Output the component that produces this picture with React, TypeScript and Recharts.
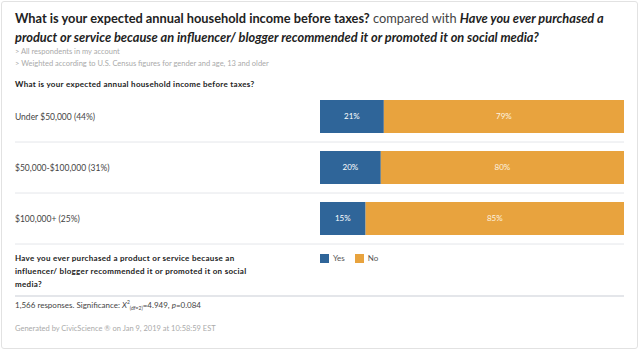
import React from 'react';
import { BarChart, Bar, XAxis, YAxis, Legend, LabelList } from 'recharts';

const categories = ['Under $50,000 (44%)', '$50,000-$100,000 (31%)', '$100,000+ (25%)'];
const yesValues = [21, 20, 15];
const noValues = [79, 80, 85];

const data = categories.map((name, i) => ({ name, yes: yesValues[i], no: noValues[i] }));

const BLUE = '#2f6599';
const ORANGE = '#e8a33e';
const FONT = 'Lato, "Open Sans", sans-serif';

// left-aligned row label plus the thin divider under each row
const RowTick = (props: any) => {
  const { y, payload } = props;
  return (
    <g>
      <text x={15} y={y} dy={3} fontSize={8.5} fill="#444" fontFamily={FONT} textAnchor="start">
        {payload.value}
      </text>
      <line x1={15} x2={624} y1={y + 25.5} y2={y + 25.5} stroke="#e4e6ea" strokeWidth={1} />
    </g>
  );
};

const App: React.FC = () => {
  return (
    <div style={{ position: 'absolute', left: 0, top: 0, width: 640, height: 351, background: '#fff', fontFamily: FONT }}>
      <div style={{ position: 'absolute', left: 1, top: 1, width: 635, height: 346, border: '1px solid #e2e2e2', borderRadius: 3 }} />

      {/* Header */}
      <div style={{ position: 'absolute', left: 15, top: 9, fontSize: 12.8, lineHeight: '19px', color: '#222', whiteSpace: 'nowrap' }}>
        <b>What is your expected annual household income before taxes?</b>{' '}
        <span style={{ color: '#444' }}>compared with</span>{' '}
        <b><i>Have you ever purchased a</i></b>
      </div>
      <div style={{ position: 'absolute', left: 15, top: 28, fontSize: 12.8, lineHeight: '19px', color: '#222', whiteSpace: 'nowrap' }}>
        <b><i>product or service because an influencer/ blogger recommended it or promoted it on social media?</i></b>
      </div>
      <div style={{ position: 'absolute', left: 15, top: 46, fontSize: 7.5, lineHeight: '12px', color: '#aaa' }}>
        <div>&gt; All respondents in my account</div>
        <div>&gt; Weighted according to U.S. Census figures for gender and age, 13 and older</div>
      </div>
      <div style={{ position: 'absolute', left: 15, top: 79, fontSize: 8, fontWeight: 700, color: '#222', letterSpacing: 0.3 }}>
        What is your expected annual household income before taxes?
      </div>

      <div style={{ position: 'absolute', left: 0, top: 0 }}>
        <BarChart
          width={640}
          height={351}
          data={data}
          layout="vertical"
          margin={{ top: 91, right: 16, bottom: 107, left: 15 }}
          barSize={33}
        >
          <XAxis type="number" domain={[0, 100]} hide />
          <YAxis
            type="category"
            dataKey="name"
            width={305}
            axisLine={false}
            tickLine={false}
            tick={<RowTick />}
          />
          <Legend
            layout="horizontal"
            verticalAlign="middle"
            align="center"
            iconType="square"
            iconSize={9}
            itemSorter={(item: any) => (item.value === 'Yes' ? 0 : 1)}
            wrapperStyle={{ position: 'absolute', left: 320, top: 253, width: 'auto', fontSize: 8, lineHeight: '10px', whiteSpace: 'nowrap' }}
            formatter={(v: string) => <span style={{ color: '#555' }}>{v}</span>}
          />
          <Bar dataKey="yes" name="Yes" stackId="a" fill={BLUE} isAnimationActive={false}>
            <LabelList dataKey="yes" position="center" fill="#fff" fontSize={8} formatter={(v: number) => `${v}%`} />
          </Bar>
          <Bar dataKey="no" name="No" stackId="a" fill={ORANGE} isAnimationActive={false}>
            <LabelList dataKey="no" position="center" fill="#fdf3e0" fontSize={8} formatter={(v: number) => `${v}%`} />
          </Bar>
        </BarChart>
      </div>

      {/* Footer */}
      <div style={{ position: 'absolute', left: 15, top: 252, width: 260, fontSize: 8, lineHeight: '13px', fontWeight: 700, color: '#222', letterSpacing: 0.3 }}>
        Have you ever purchased a product or service because an influencer/ blogger recommended it or promoted it on social media?
      </div>
      <div style={{ position: 'absolute', left: 15, top: 295, width: 609, height: 2, background: '#e4e6ea' }} />
      <div style={{ position: 'absolute', left: 15, top: 299, fontSize: 8, color: '#444' }}>
        1,566 responses. Significance: <i>X</i>
        <sup style={{ fontSize: 5 }}>2</sup>
        <sub style={{ fontSize: 5 }}>(df=2)</sub>=4.949, <i>p</i>=0.084
      </div>
      <div style={{ position: 'absolute', left: 15, top: 324, fontSize: 7.5, color: '#aaa' }}>
        Generated by CivicScience ® on Jan 9, 2019 at 10:58:59 EST
      </div>
    </div>
  );
};

export default App;
